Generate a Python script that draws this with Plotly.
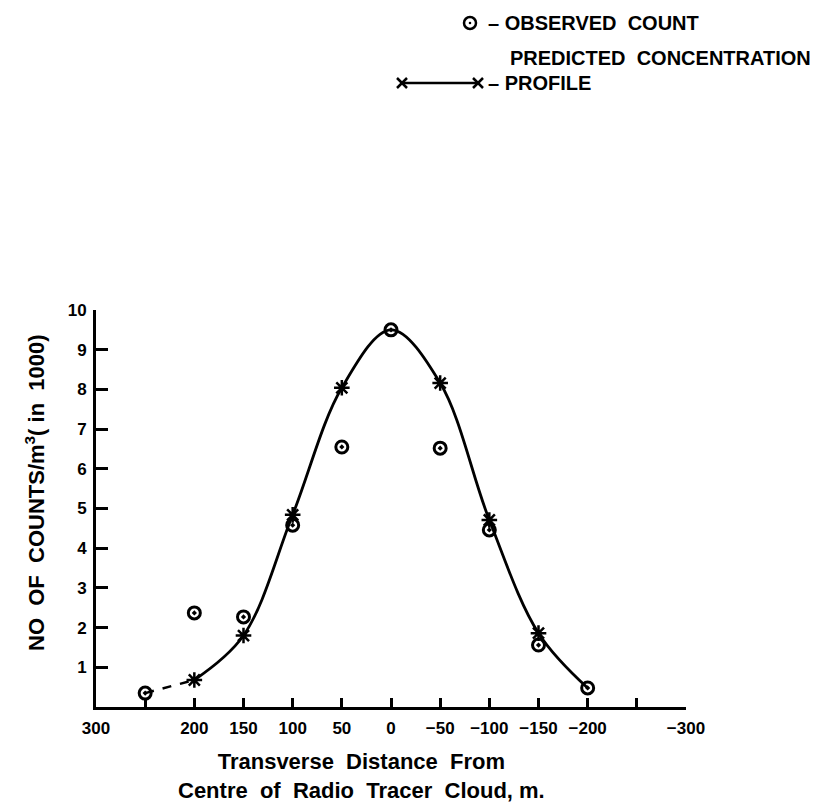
import plotly.graph_objects as go

# ---- data ----
x_obs = [250, 200, 150, 100, 50, 0, -50, -100, -150, -200]
y_obs = [0.35, 2.37, 2.27, 4.58, 6.55, 9.5, 6.52, 4.46, 1.56, 0.48]

x_pred = [200, 150, 100, 50, 0, -50, -100, -150, -200]
y_pred = [0.68, 1.8, 4.84, 8.04, 9.5, 8.16, 4.71, 1.86, 0.48]
pred_marked = [True, True, True, True, False, True, True, True, False]

x_tail = [250, 200]
y_tail = [0.35, 0.68]

x_tickvals = [300, 200, 150, 100, 50, 0, -50, -100, -150, -200, -300]
x_ticktext = ["300", "200", "150", "100", "50", "0", "\u221250", "\u2212100",
              "\u2212150", "\u2212200", "\u2212300"]
x_minor_ticks = [250, -250]
y_tickvals = [1, 2, 3, 4, 5, 6, 7, 8, 9, 10]
y_ticktext = ["1", "2", "3", "4", "5", "6", "7", "8", "9", "10"]

# ---- layout geometry ----
W, H = 820, 808
L, R, T, B = 96, 134, 310, 101
PW, PH = W - L - R, H - T - B


def px(x):
    return (x - L) / PW


def py(y):
    return (H - B - y) / PH


FONT = "Liberation Sans"
black = "black"

fig = go.Figure()

fig.add_trace(go.Scatter(x=x_tail, y=y_tail, mode="lines",
                         line=dict(color=black, width=2.5, dash="dash"),
                         hoverinfo="skip", showlegend=False))
fig.add_trace(go.Scatter(x=x_pred, y=y_pred, mode="lines",
                         line=dict(color=black, width=2.8, shape="spline", smoothing=1.0),
                         name="PREDICTED CONCENTRATION PROFILE", showlegend=False))
fig.add_trace(go.Scatter(x=[v for v, m in zip(x_pred, pred_marked) if m],
                         y=[v for v, m in zip(y_pred, pred_marked) if m],
                         mode="markers",
                         marker=dict(symbol="asterisk-open", size=13, color=black,
                                     line=dict(color=black, width=2.5)),
                         showlegend=False))
fig.add_trace(go.Scatter(x=x_obs, y=y_obs, mode="markers",
                         marker=dict(symbol="circle-open-dot", size=12, color=black,
                                     line=dict(color=black, width=3)),
                         name="OBSERVED COUNT", showlegend=False))

fig.update_xaxes(range=[300, -300], tickvals=x_tickvals, ticktext=x_ticktext,
                 ticks="inside", ticklen=9, tickwidth=2.5, tickcolor=black,
                 minor=dict(tickvals=x_minor_ticks, ticks="inside", ticklen=9,
                            tickwidth=2.5, tickcolor=black, showgrid=False),
                 showline=True, linecolor=black, linewidth=3,
                 showgrid=False, zeroline=False, ticklabelstandoff=4,
                 tickfont=dict(family=FONT, size=17, color=black, weight="bold"))
fig.update_yaxes(range=[0, 10], tickvals=y_tickvals, ticktext=y_ticktext,
                 ticks="inside", ticklen=12, tickwidth=2.5, tickcolor=black,
                 showline=True, linecolor=black, linewidth=3,
                 showgrid=False, zeroline=False, ticklabelstandoff=3,
                 tickfont=dict(family=FONT, size=17, color=black, weight="bold"))

ann_font = dict(family=FONT, color=black, weight="bold")
annotations = [
    dict(text="NO&nbsp; OF&nbsp; COUNTS/m<sup>3</sup>( in&nbsp; 1000)", textangle=-90,
         x=px(35), y=py(493), xanchor="center", yanchor="middle",
         font=dict(size=22, **ann_font)),
    dict(text="Transverse&nbsp; Distance&nbsp; From<br>"
              "Centre&nbsp; of&nbsp; Radio&nbsp; Tracer&nbsp; Cloud, m.",
         x=px(361), y=py(776), xanchor="center", yanchor="middle", align="center",
         font=dict(size=22, **ann_font)),
    dict(text="\u2013 OBSERVED&nbsp; COUNT", x=px(486), y=py(23),
         xanchor="left", yanchor="middle", font=dict(size=20, **ann_font)),
    dict(text="PREDICTED&nbsp; CONCENTRATION", x=px(508), y=py(58),
         xanchor="left", yanchor="middle", font=dict(size=20, **ann_font)),
    dict(text="\u2013 PROFILE", x=px(486), y=py(83),
         xanchor="left", yanchor="middle", font=dict(size=20, **ann_font)),
]
for a in annotations:
    a.update(xref="paper", yref="paper", showarrow=False)

# legend glyphs
shapes = [
    dict(type="circle", x0=px(464), x1=px(476), y0=py(29), y1=py(17),
         line=dict(color=black, width=2.5)),
    dict(type="circle", x0=px(468.7), x1=px(471.3), y0=py(24.3), y1=py(21.7),
         fillcolor=black, line=dict(color=black, width=0)),
    dict(type="line", x0=px(402), x1=px(478), y0=py(83), y1=py(83),
         line=dict(color=black, width=2.5)),
]
for cx in (402, 478):
    shapes.append(dict(type="line", x0=px(cx - 5), x1=px(cx + 5), y0=py(78), y1=py(88),
                       line=dict(color=black, width=2.5)))
    shapes.append(dict(type="line", x0=px(cx - 5), x1=px(cx + 5), y0=py(88), y1=py(78),
                       line=dict(color=black, width=2.5)))
for s in shapes:
    s.update(xref="paper", yref="paper")

fig.update_layout(width=W, height=H, margin=dict(l=L, r=R, t=T, b=B),
                  paper_bgcolor="white", plot_bgcolor="white",
                  showlegend=False, annotations=annotations, shapes=shapes,
                  font=dict(family=FONT, color=black))

fig.write_html("out.html")
